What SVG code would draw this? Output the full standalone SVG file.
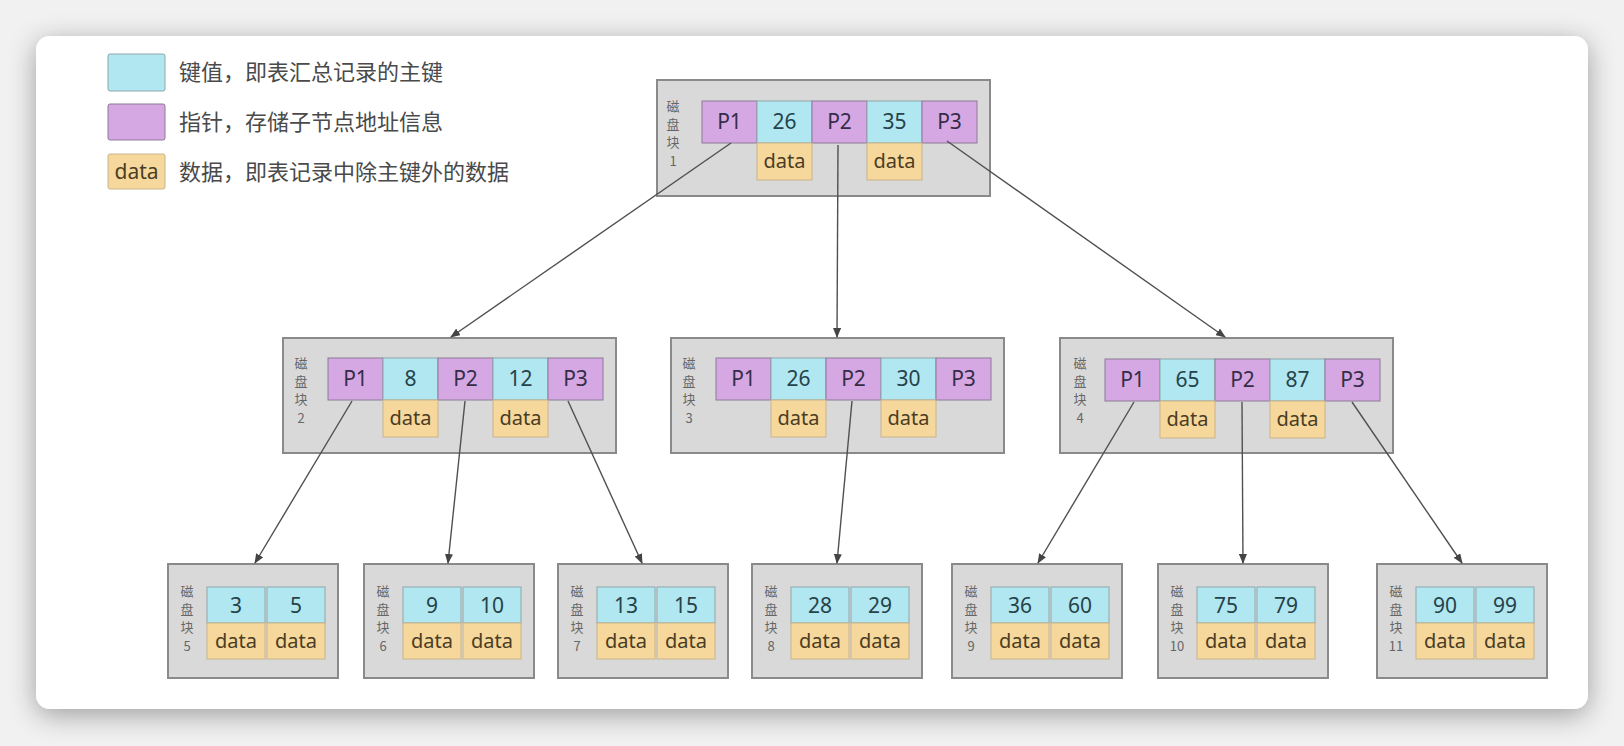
<svg xmlns="http://www.w3.org/2000/svg" width="1624" height="746" viewBox="0 0 1624 746">
<defs>
<filter id="sh" x="-10%" y="-10%" width="120%" height="130%">
<feGaussianBlur in="SourceAlpha" stdDeviation="14"/>
<feOffset dy="6"/>
<feComponentTransfer><feFuncA type="linear" slope="0.35"/></feComponentTransfer>
<feMerge><feMergeNode/><feMergeNode in="SourceGraphic"/></feMerge>
</filter>
<marker id="ah" markerWidth="10" markerHeight="8" refX="9" refY="4" orient="auto" markerUnits="userSpaceOnUse">
<path d="M0,0 L10,4 L0,8 Z" fill="#444"/>
</marker>
</defs>
<style>
.box{fill:#d9d9d9;stroke:#8a8a8a;stroke-width:2}
.p{fill:#d5a8e4;stroke:#8c7a96;stroke-width:1}
.k{fill:#b0e7f0;stroke:#8fa6ab;stroke-width:1}
.d{fill:#f7d89c;stroke:#c9b48a;stroke-width:1}
.tp{font-family:"Noto Sans","Open Sans",sans-serif;font-size:21px;fill:#352d48;text-anchor:middle}
.tk{font-family:"Noto Sans","Open Sans",sans-serif;font-size:21px;fill:#26424a;text-anchor:middle}
.td{font-family:"Noto Sans","Open Sans",sans-serif;font-size:20px;fill:#4a3d24;text-anchor:middle}
.lb{font-family:"Noto Sans CJK SC","Noto Sans",sans-serif;font-size:13px;fill:#666;text-anchor:middle}
.lg{font-family:"Noto Sans CJK SC","Noto Sans",sans-serif;font-size:22px;fill:#4a4a4a}
.cn{fill:none;stroke:#505050;stroke-width:1.4;marker-end:url(#ah)}
</style>
<rect width="1624" height="746" fill="#f1f1f1"/>
<rect x="36" y="36" width="1552" height="673" rx="14" fill="#ffffff" filter="url(#sh)"/>

<g id="legend">
<rect x="108" y="54" width="57" height="37" class="k" rx="2"/>
<text x="179" y="80" class="lg">键值，即表汇总记录的主键</text>
<rect x="108" y="104" width="57" height="36" class="p" rx="2"/>
<text x="179" y="130" class="lg">指针，存储子节点地址信息</text>
<rect x="108" y="154" width="57" height="35" class="d" rx="2"/>
<text x="136.5" y="179" class="td" style="font-size:21px">data</text>
<text x="179" y="180" class="lg">数据，即表记录中除主键外的数据</text>
</g>

<g id="node1">
<rect x="657" y="80" width="333" height="116" class="box"/>
<text x="673" y="111" class="lb">磁</text><text x="673" y="129" class="lb">盘</text><text x="673" y="147" class="lb">块</text><text x="673" y="166" class="lb">1</text>
<rect x="702" y="101" width="55" height="42" class="p"/><rect x="757" y="101" width="55" height="42" class="k"/><rect x="812" y="101" width="55" height="42" class="p"/><rect x="867" y="101" width="55" height="42" class="k"/><rect x="922" y="101" width="55" height="42" class="p"/>
<rect x="757" y="143" width="55" height="37" class="d"/><rect x="867" y="143" width="55" height="37" class="d"/>
<text x="729.5" y="129" class="tp">P1</text><text x="784.5" y="129" class="tk">26</text><text x="839.5" y="129" class="tp">P2</text><text x="894.5" y="129" class="tk">35</text><text x="949.5" y="129" class="tp">P3</text>
<text x="784.5" y="168" class="td">data</text><text x="894.5" y="168" class="td">data</text>
</g>

<g id="node2">
<rect x="283" y="338" width="333" height="115" class="box"/>
<text x="301" y="368" class="lb">磁</text><text x="301" y="386" class="lb">盘</text><text x="301" y="404" class="lb">块</text><text x="301" y="423" class="lb">2</text>
<rect x="328" y="358" width="55" height="42" class="p"/><rect x="383" y="358" width="55" height="42" class="k"/><rect x="438" y="358" width="55" height="42" class="p"/><rect x="493" y="358" width="55" height="42" class="k"/><rect x="548" y="358" width="55" height="42" class="p"/>
<rect x="383" y="400" width="55" height="37" class="d"/><rect x="493" y="400" width="55" height="37" class="d"/>
<text x="355.5" y="386" class="tp">P1</text><text x="410.5" y="386" class="tk">8</text><text x="465.5" y="386" class="tp">P2</text><text x="520.5" y="386" class="tk">12</text><text x="575.5" y="386" class="tp">P3</text>
<text x="410.5" y="425" class="td">data</text><text x="520.5" y="425" class="td">data</text>
</g>

<g id="node3">
<rect x="671" y="338" width="333" height="115" class="box"/>
<text x="689" y="368" class="lb">磁</text><text x="689" y="386" class="lb">盘</text><text x="689" y="404" class="lb">块</text><text x="689" y="423" class="lb">3</text>
<rect x="716" y="358" width="55" height="42" class="p"/><rect x="771" y="358" width="55" height="42" class="k"/><rect x="826" y="358" width="55" height="42" class="p"/><rect x="881" y="358" width="55" height="42" class="k"/><rect x="936" y="358" width="55" height="42" class="p"/>
<rect x="771" y="400" width="55" height="37" class="d"/><rect x="881" y="400" width="55" height="37" class="d"/>
<text x="743.5" y="386" class="tp">P1</text><text x="798.5" y="386" class="tk">26</text><text x="853.5" y="386" class="tp">P2</text><text x="908.5" y="386" class="tk">30</text><text x="963.5" y="386" class="tp">P3</text>
<text x="798.5" y="425" class="td">data</text><text x="908.5" y="425" class="td">data</text>
</g>

<g id="node4">
<rect x="1060" y="338" width="333" height="115" class="box"/>
<text x="1080" y="368" class="lb">磁</text><text x="1080" y="386" class="lb">盘</text><text x="1080" y="404" class="lb">块</text><text x="1080" y="423" class="lb">4</text>
<rect x="1105" y="359" width="55" height="42" class="p"/><rect x="1160" y="359" width="55" height="42" class="k"/><rect x="1215" y="359" width="55" height="42" class="p"/><rect x="1270" y="359" width="55" height="42" class="k"/><rect x="1325" y="359" width="55" height="42" class="p"/>
<rect x="1160" y="401" width="55" height="37" class="d"/><rect x="1270" y="401" width="55" height="37" class="d"/>
<text x="1132.5" y="387" class="tp">P1</text><text x="1187.5" y="387" class="tk">65</text><text x="1242.5" y="387" class="tp">P2</text><text x="1297.5" y="387" class="tk">87</text><text x="1352.5" y="387" class="tp">P3</text>
<text x="1187.5" y="426" class="td">data</text><text x="1297.5" y="426" class="td">data</text>
</g>

<g id="leaf5">
<rect x="168" y="564" width="170" height="114" class="box"/>
<text x="187" y="596" class="lb">磁</text><text x="187" y="614" class="lb">盘</text><text x="187" y="632" class="lb">块</text><text x="187" y="651" class="lb">5</text>
<rect x="207" y="587" width="58" height="36" class="k"/><rect x="267" y="587" width="58" height="36" class="k"/>
<rect x="207" y="623" width="58" height="36" class="d"/><rect x="267" y="623" width="58" height="36" class="d"/>
<text x="236" y="613" class="tk">3</text><text x="296" y="613" class="tk">5</text>
<text x="236" y="648" class="td">data</text><text x="296" y="648" class="td">data</text>
</g>

<g id="leaf6">
<rect x="364" y="564" width="170" height="114" class="box"/>
<text x="383" y="596" class="lb">磁</text><text x="383" y="614" class="lb">盘</text><text x="383" y="632" class="lb">块</text><text x="383" y="651" class="lb">6</text>
<rect x="403" y="587" width="58" height="36" class="k"/><rect x="463" y="587" width="58" height="36" class="k"/>
<rect x="403" y="623" width="58" height="36" class="d"/><rect x="463" y="623" width="58" height="36" class="d"/>
<text x="432" y="613" class="tk">9</text><text x="492" y="613" class="tk">10</text>
<text x="432" y="648" class="td">data</text><text x="492" y="648" class="td">data</text>
</g>

<g id="leaf7">
<rect x="558" y="564" width="170" height="114" class="box"/>
<text x="577" y="596" class="lb">磁</text><text x="577" y="614" class="lb">盘</text><text x="577" y="632" class="lb">块</text><text x="577" y="651" class="lb">7</text>
<rect x="597" y="587" width="58" height="36" class="k"/><rect x="657" y="587" width="58" height="36" class="k"/>
<rect x="597" y="623" width="58" height="36" class="d"/><rect x="657" y="623" width="58" height="36" class="d"/>
<text x="626" y="613" class="tk">13</text><text x="686" y="613" class="tk">15</text>
<text x="626" y="648" class="td">data</text><text x="686" y="648" class="td">data</text>
</g>

<g id="leaf8">
<rect x="752" y="564" width="170" height="114" class="box"/>
<text x="771" y="596" class="lb">磁</text><text x="771" y="614" class="lb">盘</text><text x="771" y="632" class="lb">块</text><text x="771" y="651" class="lb">8</text>
<rect x="791" y="587" width="58" height="36" class="k"/><rect x="851" y="587" width="58" height="36" class="k"/>
<rect x="791" y="623" width="58" height="36" class="d"/><rect x="851" y="623" width="58" height="36" class="d"/>
<text x="820" y="613" class="tk">28</text><text x="880" y="613" class="tk">29</text>
<text x="820" y="648" class="td">data</text><text x="880" y="648" class="td">data</text>
</g>

<g id="leaf9">
<rect x="952" y="564" width="170" height="114" class="box"/>
<text x="971" y="596" class="lb">磁</text><text x="971" y="614" class="lb">盘</text><text x="971" y="632" class="lb">块</text><text x="971" y="651" class="lb">9</text>
<rect x="991" y="587" width="58" height="36" class="k"/><rect x="1051" y="587" width="58" height="36" class="k"/>
<rect x="991" y="623" width="58" height="36" class="d"/><rect x="1051" y="623" width="58" height="36" class="d"/>
<text x="1020" y="613" class="tk">36</text><text x="1080" y="613" class="tk">60</text>
<text x="1020" y="648" class="td">data</text><text x="1080" y="648" class="td">data</text>
</g>

<g id="leaf10">
<rect x="1158" y="564" width="170" height="114" class="box"/>
<text x="1177" y="596" class="lb">磁</text><text x="1177" y="614" class="lb">盘</text><text x="1177" y="632" class="lb">块</text><text x="1177" y="651" class="lb">10</text>
<rect x="1197" y="587" width="58" height="36" class="k"/><rect x="1257" y="587" width="58" height="36" class="k"/>
<rect x="1197" y="623" width="58" height="36" class="d"/><rect x="1257" y="623" width="58" height="36" class="d"/>
<text x="1226" y="613" class="tk">75</text><text x="1286" y="613" class="tk">79</text>
<text x="1226" y="648" class="td">data</text><text x="1286" y="648" class="td">data</text>
</g>

<g id="leaf11">
<rect x="1377" y="564" width="170" height="114" class="box"/>
<text x="1396" y="596" class="lb">磁</text><text x="1396" y="614" class="lb">盘</text><text x="1396" y="632" class="lb">块</text><text x="1396" y="651" class="lb">11</text>
<rect x="1416" y="587" width="58" height="36" class="k"/><rect x="1476" y="587" width="58" height="36" class="k"/>
<rect x="1416" y="623" width="58" height="36" class="d"/><rect x="1476" y="623" width="58" height="36" class="d"/>
<text x="1445" y="613" class="tk">90</text><text x="1505" y="613" class="tk">99</text>
<text x="1445" y="648" class="td">data</text><text x="1505" y="648" class="td">data</text>
</g>

<g id="connectors">
<line x1="731" y1="143" x2="451" y2="337" class="cn"/>
<line x1="838" y1="145" x2="837" y2="337" class="cn"/>
<line x1="947" y1="141" x2="1225" y2="337" class="cn"/>
<line x1="352" y1="401" x2="255" y2="563" class="cn"/>
<line x1="465" y1="401" x2="448" y2="563" class="cn"/>
<line x1="568" y1="401" x2="642" y2="563" class="cn"/>
<line x1="852" y1="401" x2="837" y2="563" class="cn"/>
<line x1="1134" y1="402" x2="1038" y2="563" class="cn"/>
<line x1="1242" y1="402" x2="1243" y2="563" class="cn"/>
<line x1="1352" y1="402" x2="1462" y2="563" class="cn"/>
</g>
</svg>
